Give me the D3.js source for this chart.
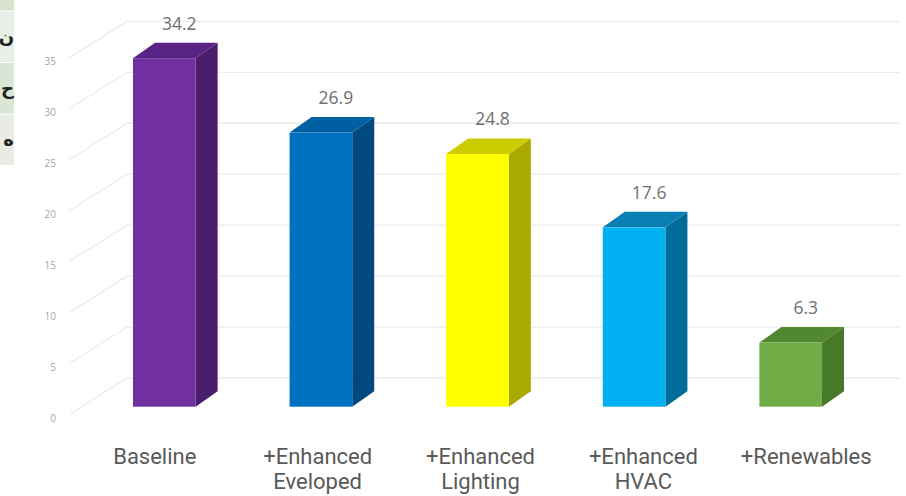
<!DOCTYPE html>
<html>
<head>
<meta charset="utf-8">
<script src="https://cdn.jsdelivr.net/npm/d3@7"></script>
<style>
  body { margin: 0; background: #fff; }
  svg { display: block; }
</style>
</head>
<body>
<div id="chart"></div>
<script>
var svgWidth = 906;
var svgHeight = 496;

// chart values
var categories = ["Baseline", "+Enhanced Eveloped", "+Enhanced Lighting", "+Enhanced HVAC", "+Renewables"];
var values = [34.2, 26.9, 24.8, 17.6, 6.3];
var tickValues = [0, 5, 10, 15, 20, 25, 30, 35];
var sideLabels = ["ن", "ح", "ه"];

// face colours per bar: front, top, side
var faceColors = [
  ["#7030a0", "#5a2487", "#4a1c6c"],
  ["#0070c0", "#005ea3", "#00487e"],
  ["#ffff00", "#cccc00", "#a9a900"],
  ["#00b0f0", "#0a7fb3", "#006d99"],
  ["#70ad47", "#51872f", "#467a28"]
];

var svg = d3.select("#chart")
  .append("svg")
  .attr("width", svgWidth)
  .attr("height", svgHeight);

// oblique depth: floor front edge -> back wall
var depth = { dx: 57, dy: -40 };
// bar depth (top / side faces)
var barDx = 22, barDy = -15.5;

var yFront = d3.scaleLinear().domain([0, 35]).range([418, 418 - 35 * 10.19]);
var yBar = d3.scaleLinear().domain([0, 35]).range([406.7, 406.7 - 35 * 10.19]);

var x = d3.scaleBand()
  .domain(categories)
  .range([86, 869])
  .paddingInner(0.6)
  .paddingOuter(0.3);

// left strip (clipped screenshot panel)
var strip = svg.append("g");
var stripColors = ["#d7e3cf", "#e9eee6", "#d9e6d4", "#e8ece5"];
var stripY = d3.scaleBand().domain(d3.range(4)).range([-40, 166]);
strip.selectAll("rect")
  .data(stripColors)
  .enter()
  .append("rect")
  .attr("x", 0)
  .attr("y", (d, i) => Math.max(0, stripY(i)))
  .attr("width", 14)
  .attr("height", (d, i) => stripY(i) + stripY.bandwidth() - Math.max(0, stripY(i)) - 1)
  .attr("fill", d => d);
strip.selectAll("text")
  .data(sideLabels)
  .enter()
  .append("text")
  .attr("x", 14)
  .attr("y", (d, i) => stripY(i + 1) + stripY.bandwidth() / 2 + 6)
  .attr("text-anchor", "end")
  .attr("font-family", "DejaVu Sans")
  .attr("font-size", 18)
  .attr("font-weight", "bold")
  .attr("fill", "#222")
  .text(d => d);

// gridlines: diagonal on the left wall, then flat along the back wall
var grid = svg.append("g")
  .attr("stroke", "#ebebeb")
  .attr("stroke-width", 1.3)
  .attr("fill", "none");

grid.selectAll("path")
  .data(tickValues)
  .enter()
  .append("path")
  .attr("d", d => {
    var y0 = yFront(d);
    return `M70,${y0 - 4} L${70 + depth.dx},${y0 + depth.dy} L900,${y0 + depth.dy}`;
  });

// tick labels
var leftAxis = d3.axisLeft(yFront)
  .tickValues(tickValues)
  .tickSize(0)
  .tickPadding(0);

var axisG = svg.append("g")
  .attr("transform", "translate(56, 0)")
  .call(leftAxis);
axisG.select(".domain").remove();
axisG.selectAll("text")
  .attr("font-family", "Open Sans")
  .attr("font-size", 10)
  .attr("fill", "#a6a6a6");

// 3D bars
var bars = svg.selectAll("g.bar")
  .data(values)
  .enter()
  .append("g")
  .attr("class", "bar");

bars.each(function(v, i) {
  var g = d3.select(this);
  var x0 = x(categories[i]);
  var x1 = x0 + x.bandwidth();
  var yt = yBar(v);
  var yb = yBar(0);
  var c = faceColors[i];

  g.append("path")
    .attr("d", `M${x1},${yt} L${x1 + barDx},${yt + barDy} L${x1 + barDx},${yb + barDy} L${x1},${yb} Z`)
    .attr("fill", c[2]);

  g.append("path")
    .attr("d", `M${x0},${yt} L${x0 + barDx},${yt + barDy} L${x1 + barDx},${yt + barDy} L${x1},${yt} Z`)
    .attr("fill", c[1]);

  g.append("rect")
    .attr("x", x0)
    .attr("y", yt)
    .attr("width", x.bandwidth())
    .attr("height", yb - yt)
    .attr("fill", c[0]);
});

// value labels
svg.selectAll("text.value")
  .data(values)
  .enter()
  .append("text")
  .attr("class", "value")
  .attr("x", (d, i) => x(categories[i]) + x.bandwidth() / 2 + barDx / 2 + 4)
  .attr("y", d => yBar(d) + barDy - 13)
  .attr("text-anchor", "middle")
  .attr("font-family", "Open Sans")
  .attr("font-size", 17.5)
  .attr("fill", "#707070")
  .text(d => d.toFixed(1));

// category labels, spread slightly outward like the reference's perspective
var catLabels = svg.selectAll("text.cat")
  .data(categories)
  .enter()
  .append("text")
  .attr("class", "cat")
  .attr("text-anchor", "middle")
  .attr("font-family", "Roboto")
  .attr("font-size", 22)
  .attr("fill", "#595959");

catLabels.each(function(d) {
  var t = d3.select(this);
  var cx = x(d) + x.bandwidth() / 2;
  cx = cx + (cx - 477) * 0.04 + 3;
  var sp = d.indexOf(" ");
  var lines = sp < 0 ? [d] : [d.slice(0, sp), d.slice(sp + 1)];
  lines.forEach(function(line, j) {
    t.append("tspan")
      .attr("x", cx)
      .attr("y", 464 + j * 25)
      .text(line);
  });
});
</script>
</body>
</html>
